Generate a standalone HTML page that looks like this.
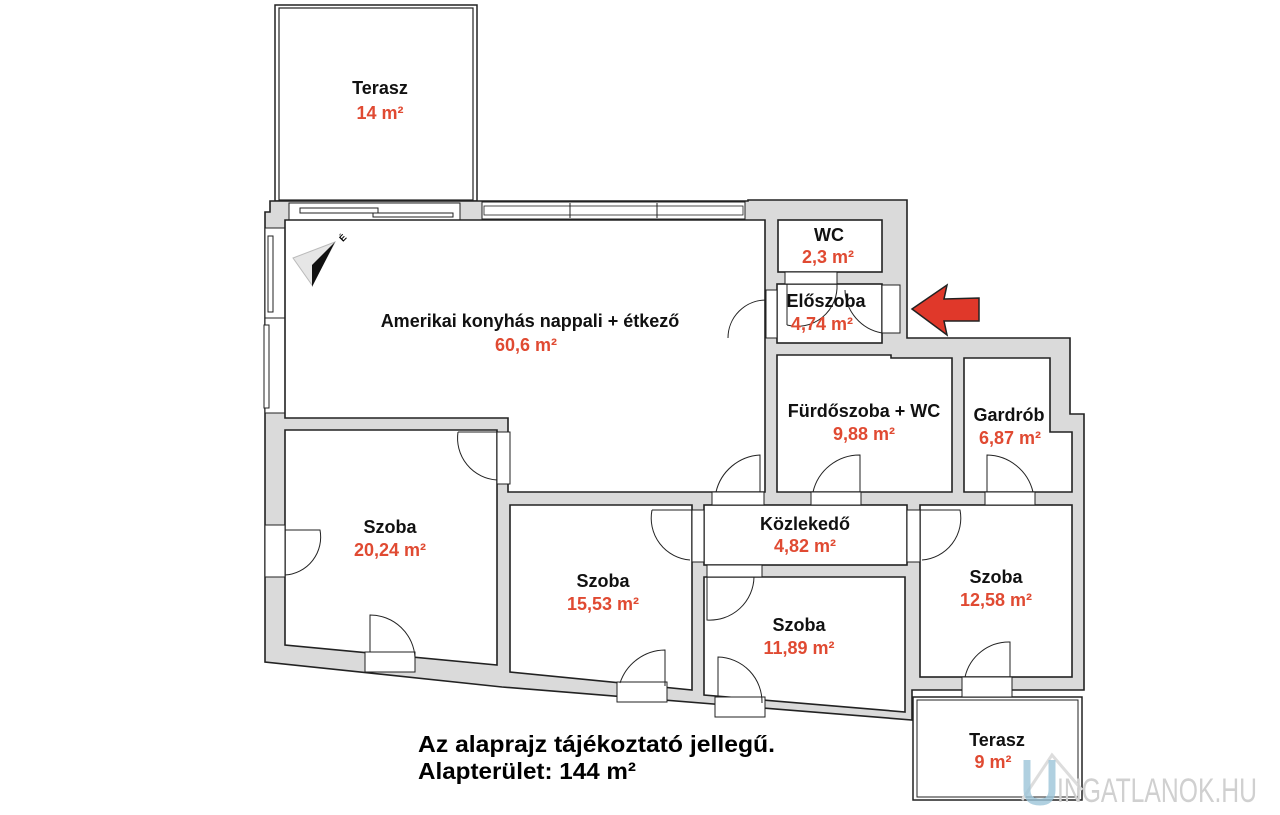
<!DOCTYPE html>
<html><head><meta charset="utf-8"><style>
html,body{margin:0;padding:0;background:#fff;}
svg{display:block;}
text{font-family:"Liberation Sans",Arial,sans-serif;font-weight:bold;text-anchor:middle;}
.n{font-size:18px;fill:#111;}
.a{font-size:18px;fill:#e04a32;}
</style></head><body>
<svg width="1280" height="815" viewBox="0 0 1280 815" xmlns="http://www.w3.org/2000/svg">
<!-- top terrace -->
<rect x="275" y="5" width="202" height="196" fill="#fff" stroke="#222" stroke-width="1.5"/>
<rect x="279" y="8" width="194" height="192" fill="none" stroke="#222" stroke-width="1.2"/>
<!-- building outline -->
<polygon points="265,212 270,212 270,201 748,201 748,200 907,200 907,338 1070,338 1070,414 1084,414 1084,690 912,690 912,720 502,687 265,662" fill="#dadada" stroke="#222" stroke-width="1.6"/>
<!-- windows top -->
<rect x="289" y="203" width="171" height="17" fill="#fff" stroke="#222" stroke-width="1"/>
<rect x="300" y="208" width="78" height="5" fill="#fff" stroke="#222" stroke-width="1"/>
<rect x="373" y="213" width="80" height="4" fill="#fff" stroke="#222" stroke-width="1"/>
<rect x="482" y="202" width="263" height="17" fill="#fff" stroke="#222" stroke-width="1"/>
<line x1="570" y1="203" x2="570" y2="218" stroke="#222"/><line x1="657" y1="203" x2="657" y2="218" stroke="#222"/>
<rect x="484" y="206" width="259" height="9" fill="none" stroke="#222" stroke-width=".8"/>
<!-- left windows -->
<rect x="265" y="228" width="20" height="90" fill="#fff" stroke="#222" stroke-width="1"/>
<rect x="268" y="236" width="5" height="76" fill="#fff" stroke="#222" stroke-width="1"/>
<rect x="265" y="318" width="20" height="95" fill="#fff" stroke="#222" stroke-width="1"/>
<rect x="264" y="325" width="5" height="83" fill="#fff" stroke="#222" stroke-width="1"/>
<!-- rooms -->
<g fill="#fff" stroke="#222" stroke-width="1.6">
<polygon points="285,220 765,220 765,492 508,492 508,418 285,418"/>
<rect x="778" y="220" width="104" height="52"/>
<rect x="777" y="284" width="105" height="59"/>
<polygon points="777,355 891,355 891,358 952,358 952,492 777,492"/>
<polygon points="964,358 1050,358 1050,432 1072,432 1072,492 964,492"/>
<rect x="704" y="505" width="203" height="60"/>
<polygon points="285,430 497,430 497,665 285,645"/>
<polygon points="510,505 692,505 692,690 510,672"/>
<polygon points="704,577 905,577 905,712 704,695"/>
<rect x="920" y="505" width="152" height="172"/>
</g>
<rect x="913" y="697" width="169" height="103" fill="#fff" stroke="#222" stroke-width="1.5"/>
<rect x="917" y="700" width="161" height="97" fill="none" stroke="#222" stroke-width="1"/>
<!-- door frames -->
<g fill="#fff" stroke="#222" stroke-width="1">
<rect x="766" y="290" width="11" height="48"/>
<rect x="785" y="272" width="52" height="12"/>
<rect x="882" y="285" width="18" height="48"/>
<rect x="712" y="492" width="52" height="13"/>
<rect x="811" y="492" width="50" height="13"/>
<rect x="985" y="492" width="50" height="13"/>
<rect x="497" y="432" width="13" height="52"/>
<rect x="265" y="525" width="20" height="52"/>
<rect x="365" y="652" width="50" height="20"/>
<rect x="692" y="510" width="12" height="52"/>
<rect x="907" y="510" width="13" height="52"/>
<rect x="707" y="565" width="55" height="12"/>
<rect x="617" y="682" width="50" height="20"/>
<rect x="715" y="697" width="50" height="20"/>
<rect x="962" y="677" width="50" height="20"/>
</g>
<!-- door arcs -->
<g fill="none" stroke="#222" stroke-width="1">
<path d="M728,338 A38,38 0 0 1 766,300 L766,338"/>
<path d="M787,284 L787,325 M787,325 A40,40 0 0 0 837,284"/>
<path d="M845,290 A45,45 0 0 0 882,333"/>
<path d="M716,492 A48,48 0 0 1 760,455 L760,492"/>
<path d="M813,492 A48,48 0 0 1 860,455 L860,492"/>
<path d="M987,492 L987,455 A48,48 0 0 1 1033,492"/>
<path d="M458,432 L497,432 M458,432 A42,42 0 0 0 497,480"/>
<path d="M285,530 L320,530 A38,38 0 0 1 285,575"/>
<path d="M370,652 L370,615 A45,45 0 0 1 415,658"/>
<path d="M652,510 L692,510 M652,510 A42,42 0 0 0 690,560"/>
<path d="M920,510 L960,510 A42,42 0 0 1 922,560"/>
<path d="M707,577 L707,620 A44,44 0 0 0 754,577"/>
<path d="M620,683 A48,48 0 0 1 665,650 L665,686"/>
<path d="M718,697 L718,657 A45,45 0 0 1 762,703"/>
<path d="M965,677 A45,45 0 0 1 1010,642 L1010,677"/>
</g>
<!-- compass -->
<polygon points="293,258 335,242 312,285" fill="#e6e6e6" stroke="#bbb" stroke-width="1"/>
<polygon points="312,265 335,242 312,287" fill="#111"/>
<text x="345" y="240" style="font-size:9px;font-weight:bold" transform="rotate(-45 345 240)">É</text>
<!-- arrow -->
<polygon points="912,309 947,285 944,299 979,298 979,321 944,321 947,335" fill="#e0382a" stroke="#222" stroke-width="1.5"/>
<!-- labels -->
<text class="n" x="380" y="94">Terasz</text><text class="a" x="380" y="119">14 m²</text>
<text class="n" x="530" y="327">Amerikai konyhás nappali + étkező</text><text class="a" x="526" y="351">60,6 m²</text>
<text class="n" x="829" y="241">WC</text><text class="a" x="828" y="263">2,3 m²</text>
<text class="n" x="826" y="307">Előszoba</text><text class="a" x="822" y="330">4,74 m²</text>
<text class="n" x="864" y="417">Fürdőszoba + WC</text><text class="a" x="864" y="440">9,88 m²</text>
<text class="n" x="1009" y="421">Gardrób</text><text class="a" x="1010" y="444">6,87 m²</text>
<text class="n" x="390" y="533">Szoba</text><text class="a" x="390" y="556">20,24 m²</text>
<text class="n" x="603" y="587">Szoba</text><text class="a" x="603" y="610">15,53 m²</text>
<text class="n" x="805" y="530">Közlekedő</text><text class="a" x="805" y="552">4,82 m²</text>
<text class="n" x="799" y="631">Szoba</text><text class="a" x="799" y="654">11,89 m²</text>
<text class="n" x="996" y="583">Szoba</text><text class="a" x="996" y="606">12,58 m²</text>
<text class="n" x="997" y="746">Terasz</text><text class="a" x="993" y="768">9 m²</text>
<text x="418" y="752" style="font-size:23px;text-anchor:start;fill:#000" textLength="357" lengthAdjust="spacingAndGlyphs">Az alaprajz tájékoztató jellegű.</text>
<text x="418" y="779" style="font-size:23px;text-anchor:start;fill:#000" textLength="218" lengthAdjust="spacingAndGlyphs">Alapterület: 144 m²</text>
<!-- watermark -->
<path d="M1022,800 L1052,755 L1082,790" fill="none" stroke="#ddd" stroke-width="3"/>
<path d="M1027,760 L1027,790 Q1027,802 1040,802 Q1052,802 1052,790 L1052,760" fill="none" stroke="#9cc4d8" stroke-width="7" opacity=".8"/>
<text x="1157" y="802" style="font-size:34px;fill:#d0d0d0;font-weight:normal" textLength="200" lengthAdjust="spacingAndGlyphs">INGATLANOK.HU</text>
</svg>
</body></html>
